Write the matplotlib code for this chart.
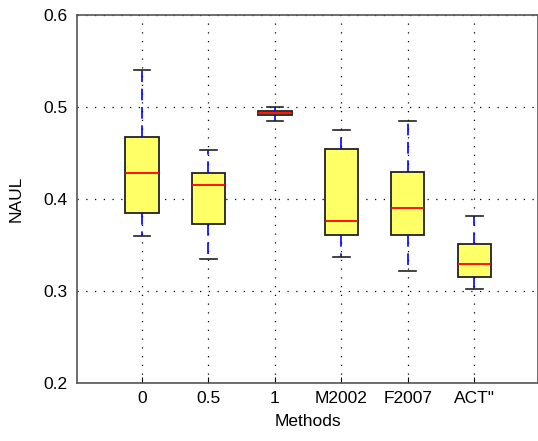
import matplotlib
matplotlib.use("Agg")
import matplotlib.pyplot as plt

plt.rcParams['font.family'] = ['Liberation Sans', 'DejaVu Sans']

methods = ['0', '0.5', '1', 'M2002', 'F2007', 'ACT"']
whislo = [0.360, 0.335, 0.485, 0.337, 0.322, 0.302]
q1 = [0.385, 0.373, 0.491, 0.361, 0.361, 0.315]
med = [0.428, 0.415, 0.4935, 0.376, 0.390, 0.329]
q3 = [0.467, 0.428, 0.4955, 0.454, 0.429, 0.351]
whishi = [0.540, 0.453, 0.500, 0.475, 0.485, 0.381]

stats = []
for i, name in enumerate(methods):
    stats.append({'label': name, 'whislo': whislo[i], 'q1': q1[i], 'med': med[i],
                  'q3': q3[i], 'whishi': whishi[i], 'fliers': []})

fig = plt.figure(figsize=(5.38, 4.41), dpi=100)
ax = fig.add_axes([0.143, 0.132, 0.857, 0.834])

ax.bxp(stats, widths=0.5, patch_artist=True, showfliers=False,
       boxprops=dict(facecolor='#ffff66', edgecolor='#222222', linewidth=1.3),
       medianprops=dict(color='red', linewidth=1.3),
       whiskerprops=dict(color='blue', linestyle=(0, (7, 4)), linewidth=1.2),
       capprops=dict(color='#222222', linewidth=1.2), capwidths=0.25, zorder=3)

ax.set_xlim(0.02, 6.96)
ax.set_ylim(0.2, 0.6)
ax.set_yticks([0.2, 0.3, 0.4, 0.5, 0.6])
ax.set_yticklabels(['0.2', '0.3', '0.4', '0.5', '0.6'])
ax.grid(True, linestyle=(0, (1, 6)), color='black', linewidth=0.9)
ax.set_axisbelow(True)
ax.tick_params(axis='y', length=0, pad=7, labelsize=12.5)
ax.tick_params(axis='x', direction='in', length=4, pad=6, labelsize=12.5)
for s in ax.spines.values():
    s.set_color('#555555')
    s.set_linewidth(1.2)
ax.set_xlabel('Methods', fontsize=12.5, labelpad=6)
ax.set_ylabel('NAUL', fontsize=12.5, labelpad=14)

fig.savefig('out.png', dpi=100)
